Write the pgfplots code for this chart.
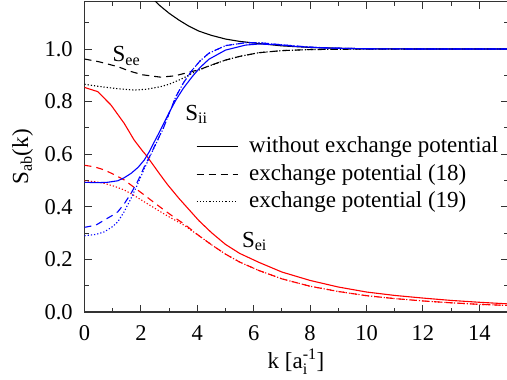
\documentclass[border=0pt]{standalone}
\usepackage{fontspec}
\setmainfont{Liberation Serif}
\usepackage{amsmath}
\usepackage{pgfplots}
\pgfplotsset{compat=1.18}

\begin{document}
\fontsize{23}{27}\selectfont
\begin{tikzpicture}
\begin{axis}[
  scale only axis,
  width=423pt, height=310.3pt,
  xmin=0, xmax=15, ymin=0, ymax=1.18,
  xtick={0,2,4,6,8,10,12,14},
  ytick={0,0.2,0.4,0.6,0.8,1.0},
  minor xtick={1,3,5,7,9,11,13},
  minor ytick={0.1,0.3,0.5,0.7,0.9,1.1},
  tick align=inside,
  major tick length=7pt, minor tick length=4pt,
  axis line style={line width=1.2pt, black!80},
  every tick/.style={line width=1pt, black!80},
  tick label style={font=\fontsize{22.5}{25}\selectfont},
  /pgf/number format/assume math mode=true,
  yticklabel style={/pgf/number format/fixed, /pgf/number format/fixed zerofill, /pgf/number format/precision=1, xshift=-4pt},
  xticklabel style={yshift=-6pt},
  xlabel={k [a$_{\text{i}}^{\text{-1}}$]},
  xlabel style={yshift=8pt},
  ylabel={S$_{\text{ab}}$(k)},
  ylabel style={yshift=-4pt},
  legend style={draw=none, fill=none, inner sep=0pt, at={(axis cs:3.95,0.676)}, anchor=north west,
    cells={anchor=west}, font=\fontsize{23}{27}\selectfont,
    nodes={inner sep=1pt, text depth=0.25em, text height=0.75em},
    row sep=2.5pt,
    /tikz/every odd column/.append style={column sep=10pt}},
  legend image code/.code={\draw[#1, line width=1.1pt] (0pt,0pt) -- (41pt,0pt);},
  every axis plot/.append style={line width=1.1pt},
]
\pgfplotsset{dashedsty/.style={dash pattern=on 7pt off 5pt}, dottedsty/.style={dash pattern=on 1.2pt off 2pt}}

% ---- S_ee (black)
\addplot[black, forget plot] coordinates {
(2.0,1.25) (2.3,1.205) (2.65,1.167) (3.0,1.136) (3.35,1.110) (3.7,1.087) (4.06,1.068) (4.5,1.052) (5.0,1.038) (5.5,1.029) (6.18,1.021) (7,1.012) (8,1.006) (9,1.003) (10,1.001) (12,1.0) (15,1.0)};
\addplot[black, dashedsty, forget plot] coordinates {
(0,0.962) (0.5,0.952) (1.18,0.933) (1.6,0.916) (2.06,0.902) (2.7,0.893) (3.2,0.898) (3.53,0.907) (3.82,0.915) (4.06,0.921) (4.4,0.935) (5.0,0.958) (5.5,0.972) (6.18,0.986) (7,0.994) (8,0.998) (9,0.999) (10,1.0) (15,1.0)};
\addplot[black, dottedsty, forget plot] coordinates {
(0,0.866) (0.5,0.858) (1.18,0.849) (1.76,0.844) (2.2,0.847) (2.7,0.857) (3.0,0.866) (3.35,0.882) (3.53,0.891) (3.8,0.907) (4.06,0.920) (4.4,0.935) (5.0,0.958) (5.5,0.972) (6.18,0.986) (7,0.994) (8,0.998) (9,0.999) (10,1.0) (15,1.0)};

% ---- S_ei (red)
\addplot[red, forget plot] coordinates {
(0,0.854) (0.47,0.838) (0.94,0.787) (1.41,0.717) (1.76,0.654) (2.06,0.612) (2.18,0.597) (2.35,0.572) (2.65,0.527) (2.94,0.485) (3.35,0.432) (3.7,0.39) (4.06,0.347) (4.5,0.302) (5.0,0.257) (5.5,0.223) (6.18,0.189) (7,0.152) (8,0.120) (9,0.095) (10,0.076) (11,0.063) (12,0.053) (13,0.044) (14,0.037) (15,0.031)};
\addplot[red, dashedsty, forget plot] coordinates {
(0,0.558) (0.35,0.552) (0.71,0.540) (1.06,0.522) (1.41,0.502) (1.76,0.474) (2.12,0.445) (2.47,0.416) (2.82,0.388) (3.18,0.360) (3.53,0.335) (4.06,0.290) (4.5,0.256) (5.0,0.220) (5.5,0.190) (6.18,0.158) (7,0.126) (8,0.098) (9,0.078) (10,0.062) (11,0.051) (12,0.042) (13,0.035) (14,0.029) (15,0.025)};
\addplot[red, dottedsty, forget plot] coordinates {
(0,0.499) (0.35,0.496) (0.71,0.489) (1.06,0.478) (1.41,0.464) (1.76,0.443) (2.12,0.419) (2.47,0.396) (2.82,0.373) (3.18,0.351) (3.53,0.330) (4.06,0.290) (4.5,0.256) (5.0,0.220) (5.5,0.190) (6.18,0.158) (7,0.126) (8,0.098) (9,0.078) (10,0.062) (11,0.051) (12,0.042) (13,0.035) (14,0.029) (15,0.025)};

% ---- S_ii (blue)
\addplot[blue, forget plot] coordinates {
(0,0.493) (0.5,0.492) (0.8,0.493) (1.18,0.499) (1.4,0.510) (1.65,0.527) (1.9,0.550) (2.12,0.578) (2.3,0.610) (2.47,0.646) (2.65,0.683) (3.0,0.758) (3.24,0.806) (3.5,0.850) (3.82,0.895) (4.1,0.930) (4.41,0.961) (5.0,0.996) (5.71,1.015) (6.18,1.019) (6.8,1.017) (7.5,1.010) (8.5,1.004) (10,1.001) (12,1.0) (15,1.0)};
\addplot[blue, dashedsty, forget plot] coordinates {
(0,0.322) (0.4,0.330) (0.71,0.350) (1.0,0.368) (1.18,0.381) (1.4,0.410) (1.65,0.451) (1.9,0.500) (2.12,0.552) (2.35,0.600) (2.59,0.654) (2.8,0.700) (3.0,0.755) (3.24,0.819) (3.5,0.870) (3.82,0.920) (4.1,0.955) (4.41,0.984) (5.0,1.013) (5.71,1.024) (6.2,1.024) (7,1.016) (8,1.007) (9,1.003) (10,1.001) (12,1.0) (15,1.0)};
\addplot[blue, dottedsty, forget plot] coordinates {
(0,0.290) (0.4,0.295) (0.71,0.305) (1.0,0.325) (1.18,0.343) (1.4,0.380) (1.65,0.432) (1.9,0.490) (2.12,0.545) (2.35,0.598) (2.59,0.652) (2.8,0.700) (3.0,0.755) (3.24,0.819) (3.5,0.870) (3.82,0.920) (4.1,0.955) (4.41,0.984) (5.0,1.013) (5.71,1.024) (6.2,1.024) (7,1.016) (8,1.007) (9,1.003) (10,1.001) (12,1.0) (15,1.0)};

\addlegendimage{black}
\addlegendentry{without exchange potential}
\addlegendimage{black, dash pattern=on 7pt off 5pt}
\addlegendentry{exchange potential (18)}
\addlegendimage{black, dash pattern=on 1.2pt off 2pt}
\addlegendentry{exchange potential (19)}

\node[anchor=base west, inner sep=0pt] at (axis cs:0.99,0.951) {S$_{\text{ee}}$};
\node[anchor=base west, inner sep=0pt] at (axis cs:3.57,0.730) {S$_{\text{ii}}$};
\node[anchor=base west, inner sep=0pt] at (axis cs:5.58,0.247) {S$_{\text{ei}}$};
\end{axis}
\pgfresetboundingbox
\path[use as bounding box] ([xshift=-84.5pt,yshift=-67pt]current axis.south west) rectangle ([xshift=-0.5pt,yshift=1.7pt]current axis.north east);
\end{tikzpicture}
\end{document}
